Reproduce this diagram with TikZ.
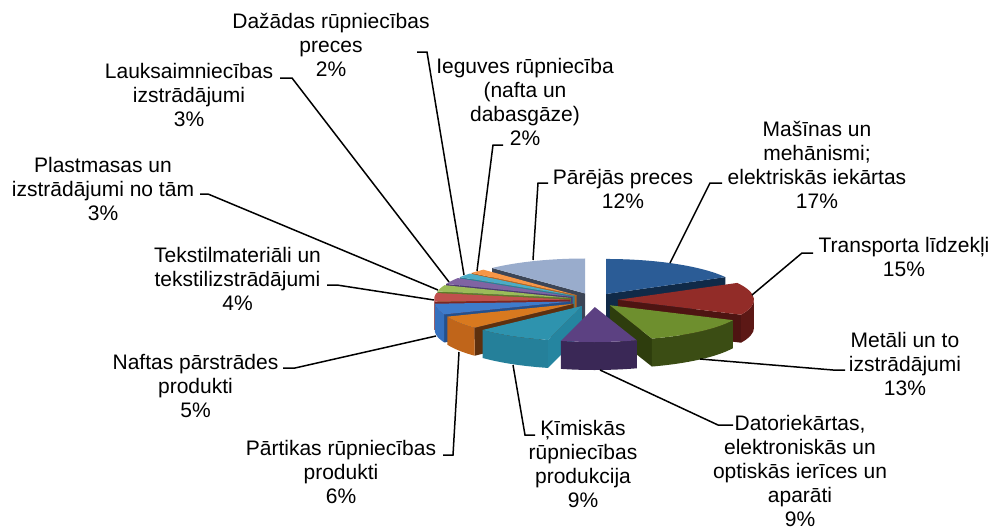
\documentclass[tikz,border=0pt]{standalone}
\usepackage{fontspec}
\setmainfont{Liberation Sans}
\usetikzlibrary{calc}
% slice colours: top / radial face / outer face
\definecolor{masT}{HTML}{2B5C96}\definecolor{masR}{HTML}{102A48}\definecolor{masO}{HTML}{1A3A60}
\definecolor{traT}{HTML}{922C28}\definecolor{traR}{HTML}{4E1412}\definecolor{traO}{HTML}{5C1815}
\definecolor{metT}{HTML}{6E8F2E}\definecolor{metR}{HTML}{2E3D0D}\definecolor{metO}{HTML}{3B4D14}
\definecolor{datT}{HTML}{5C4182}\definecolor{datR}{HTML}{2E1F45}\definecolor{datO}{HTML}{3A2856}
\definecolor{kimT}{HTML}{2E93AE}\definecolor{kimR}{HTML}{2585A0}\definecolor{kimO}{HTML}{25809A}
\definecolor{parT}{HTML}{D8791F}\definecolor{parR}{HTML}{5E300E}\definecolor{parO}{HTML}{C0651A}
\definecolor{nafT}{HTML}{3E7BCB}\definecolor{nafR}{HTML}{24508C}\definecolor{nafO}{HTML}{3570BE}
\definecolor{tekT}{HTML}{C0504D}\definecolor{tekR}{HTML}{7E2624}\definecolor{tekO}{HTML}{A8403D}
\definecolor{plaT}{HTML}{9BBB59}\definecolor{plaR}{HTML}{5E7A2A}\definecolor{plaO}{HTML}{7E9B44}
\definecolor{lauT}{HTML}{8064A2}\definecolor{lauR}{HTML}{4E3870}\definecolor{lauO}{HTML}{684E88}
\definecolor{dazT}{HTML}{4BACC6}\definecolor{dazR}{HTML}{2A7E96}\definecolor{dazO}{HTML}{3A96AE}
\definecolor{iegT}{HTML}{F79646}\definecolor{iegR}{HTML}{B3621C}\definecolor{iegO}{HTML}{D67B30}
\definecolor{preT}{HTML}{99ACCC}\definecolor{preR}{HTML}{3C4556}\definecolor{preO}{HTML}{7084A6}
% #1 name, #2 low angle, #3 high angle, #4 top, #5 radial, #6 outer
\newcommand\pieslice[6]{%
  \coordinate (#1) at ($(C)+({(#2+#3)/2}:24pt and 7pt)$);
  \pgfmathtruncatemacro\visLo{cos(#2)>0}%
  \pgfmathtruncatemacro\visHi{cos(#3)<0}%
  \pgfmathsetmacro\outA{max(#2,-180)}%
  \pgfmathsetmacro\outB{min(#3,0)}%
  \pgfmathtruncatemacro\visOut{\outA<\outB}%
  \ifnum\visLo=1
    \fill[#5] (#1) -- ($(#1)+(#2:136pt and 35pt)$) -- ++(0,-28pt) -- ($(#1)+(0,-28pt)$) -- cycle;
  \fi
  \ifnum\visHi=1
    \fill[#5] (#1) -- ($(#1)+(#3:136pt and 35pt)$) -- ++(0,-28pt) -- ($(#1)+(0,-28pt)$) -- cycle;
  \fi
  \ifnum\visOut=1
    \fill[#6] ($(#1)+(\outA:136pt and 35pt)$) arc[start angle=\outA, end angle=\outB, x radius=136pt, y radius=35pt]
      -- ++(0,-28pt) arc[start angle=\outB, end angle=\outA, x radius=136pt, y radius=35pt] -- cycle;
  \fi
  \fill[#4] (#1) -- ($(#1)+(#3:136pt and 35pt)$) arc[start angle=#3, end angle=#2, x radius=136pt, y radius=35pt] -- cycle;
}
\tikzset{
  lab/.style={font=\fontsize{21}{24}\selectfont, align=center, inner sep=0pt, anchor=north, text=black},
  leader/.style={draw=black, line width=1.5pt, line join=miter}
}
\begin{document}
\begin{tikzpicture}[x=1pt, y=1pt]
\fill[white] (0,0) rectangle (993,-531);
\useasboundingbox (0,0) rectangle (993,-531);
\coordinate (C) at (594,-300);
% pie, back to front
\pieslice{pre}{-270}{-226.8}{preT}{preR}{preO}
\pieslice{mas}{28.8}{90}{masT}{masR}{masO}
\pieslice{ieg}{-226.8}{-219.6}{iegT}{iegR}{iegO}
\pieslice{daz}{-219.6}{-212.4}{dazT}{dazR}{dazO}
\pieslice{lau}{-212.4}{-201.6}{lauT}{lauR}{lauO}
\pieslice{pla}{-201.6}{-190.8}{plaT}{plaR}{plaO}
\pieslice{tek}{-190.8}{-176.4}{tekT}{tekR}{tekO}
\pieslice{tra}{-25.2}{28.8}{traT}{traR}{traO}
\pieslice{naf}{-176.4}{-158.4}{nafT}{nafR}{nafO}
\pieslice{par}{-158.4}{-136.8}{parT}{parR}{parO}
\pieslice{met}{-72}{-25.2}{metT}{metR}{metO}
\pieslice{kim}{-136.8}{-104.4}{kimT}{kimR}{kimO}
\pieslice{dat}{-104.4}{-72}{datT}{datR}{datO}
% labels
\node[lab] (Lmas) at (817,-119.2) {\strut Mašīnas un\\mehānismi;\\elektriskās iekārtas\\17\%};
\node[lab] (Ltra) at (904,-235.2) {\strut Transporta līdzekļi\\15\%};
\node[lab] (Lmet) at (905,-330.2) {\strut Metāli un to\\izstrādājumi\\13\%};
\node[lab] (Ldat) at (800,-413.2) {\strut Datoriekārtas,\\elektroniskās un\\optiskās ierīces un\\aparāti\\9\%};
\node[lab] (Lkim) at (583,-418.2) {\strut Ķīmiskās\\rūpniecības\\produkcija\\9\%};
\node[lab] (Lpar) at (341,-438.2) {\strut Pārtikas rūpniecības\\produkti\\6\%};
\node[lab] (Lnaf) at (195.5,-352.2) {\strut Naftas pārstrādes\\produkti\\5\%};
\node[lab] (Ltek) at (237.5,-245.2) {\strut Tekstilmateriāli un\\tekstilizstrādājumi\\4\%};
\node[lab] (Lpla) at (103,-155.2) {\strut Plastmasas un\\izstrādājumi no tām\\3\%};
\node[lab] (Llau) at (189,-61.2) {\strut Lauksaimniecības\\izstrādājumi\\3\%};
\node[lab] (Ldaz) at (331,-11.2) {\strut Dažādas rūpniecības\\preces\\2\%};
\node[lab] (Lieg) at (525,-56.2) {\strut Ieguves rūpniecība\\(nafta un\\dabasgāze)\\2\%};
\node[lab] (Lpre) at (623,-167.2) {\strut Pārējās preces\\12\%};
% leader points
\coordinate (smas) at (722,-183); \coordinate (bmas) at (710,-183); \coordinate (amas) at (670,-263);
\coordinate (stra) at (813,-253); \coordinate (btra) at (802,-253); \coordinate (atra) at (752,-295);
\coordinate (smet) at (845,-370); \coordinate (bmet) at (833,-370); \coordinate (amet) at (700,-359);
\coordinate (sdat) at (733,-425); \coordinate (bdat) at (718,-425); \coordinate (adat) at (600,-370);
\coordinate (skim) at (535,-435); \coordinate (bkim) at (525,-435); \coordinate (akim) at (513,-365);
\coordinate (spar) at (443,-455); \coordinate (bpar) at (453,-455); \coordinate (apar) at (459,-352);
\coordinate (snaf) at (283,-368); \coordinate (bnaf) at (295,-368); \coordinate (anaf) at (436,-336);
\coordinate (stek) at (327,-285); \coordinate (btek) at (337,-285); \coordinate (atek) at (434,-300);
\coordinate (spla) at (200,-194); \coordinate (bpla) at (208,-194); \coordinate (apla) at (438,-290);
\coordinate (slau) at (280,-78);  \coordinate (blau) at (292,-78);  \coordinate (alau) at (449,-282);
\coordinate (sdaz) at (417,-52);  \coordinate (bdaz) at (427,-52);  \coordinate (adaz) at (464,-275);
\coordinate (sieg) at (503,-145); \coordinate (bieg) at (493,-145); \coordinate (aieg) at (477,-271);
\coordinate (spre) at (548,-183); \coordinate (bpre) at (538,-183); \coordinate (apre) at (533,-260);
\foreach \n in {mas,tra,met,dat,kim,par,naf,tek,pla,lau,daz,ieg,pre}
  \draw[leader] (s\n) -- (b\n) -- (a\n);
\end{tikzpicture}
\end{document}
